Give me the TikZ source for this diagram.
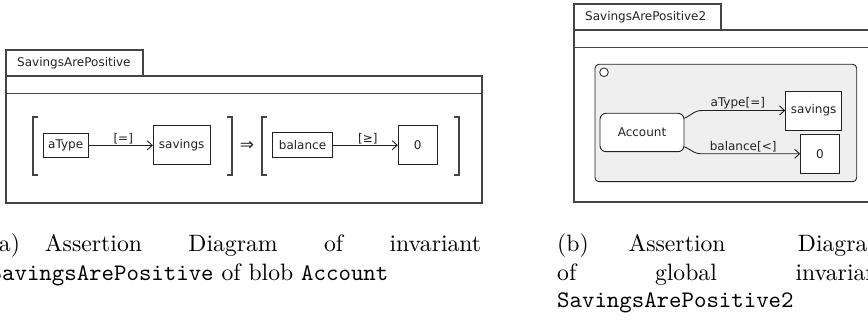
\documentclass[tikz,border=0pt]{standalone}
\usepackage{fontspec}
\newfontfamily\dv{DejaVu Sans}
\newfontfamily\caprm{lmroman10-regular.otf}
\newfontfamily\captt{lmmono10-regular.otf}
\usetikzlibrary{arrows.meta}
\definecolor{framegray}{HTML}{444444}
\definecolor{inkgray}{HTML}{222222}
\definecolor{panelfill}{HTML}{EFEFEF}
\newcommand\capfont{\caprm\fontsize{23.7}{28.4}\selectfont}
\newcommand\ctt[1]{{\captt #1}}
\begin{document}
\begin{tikzpicture}[x=1pt,y=-1pt,
  frameline/.style={draw=framegray, line width=1.2pt},
  bracket/.style={draw=framegray, line width=1.2pt},
  dvtext/.style={font=\dv\fontsize{12}{14}\selectfont, text=inkgray},
  valbox/.style={dvtext, draw=inkgray, line width=0.9pt, inner sep=0pt},
  arr/.style={draw=inkgray, line width=0.9pt, -{Straight Barb[length=5pt,width=9pt]}},
  elabel/.style={dvtext, inner sep=1pt},
  captext/.style={anchor=base west, inner sep=0pt, font=\capfont}]
\useasboundingbox (0,0) rectangle (868,323);
\clip (0,0) rectangle (868,323);

% ---- left frame: SavingsArePositive ----
\draw[frameline] (6,50) rectangle (143,76);
\node[dvtext, anchor=west, inner sep=0pt] (ltab) at (17,63) {SavingsArePositive};
\draw[frameline] (6,76) rectangle (482,203);
\draw[frameline] (6,93.3) -- (482,93.3);

% brackets
\draw[bracket] (38,117) -- (33,117) -- (33,175) -- (38,175);
\draw[bracket] (227,117) -- (232,117) -- (232,175) -- (227,175);
\draw[bracket] (267,117) -- (262,117) -- (262,175) -- (267,175);
\draw[bracket] (454,117) -- (459,117) -- (459,175) -- (454,175);

\node[valbox, minimum width=44.7pt, minimum height=24pt] (atype) at (65.7,145.3) {aType};
\node[valbox, minimum width=56.7pt, minimum height=39.3pt] (lsav) at (181.7,144.7) {savings};
\node[dvtext, font=\dv\fontsize{17}{18}\selectfont, inner sep=0pt] (implies) at (247,146.5) {⇒};
\node[valbox, minimum width=59.6pt, minimum height=25pt] (bal) at (302.5,145.2) {balance};
\node[valbox, minimum width=39pt, minimum height=39.3pt] (lzero) at (417.8,144.7) {0};

\draw[arr] (atype.east) -- (atype.east -| lsav.west) node[elabel, pos=0.54, above] {[=]};
\draw[arr] (bal.east) -- (bal.east -| lzero.west) node[elabel, pos=0.54, above] {[≥]};

% ---- right frame: SavingsArePositive2 ----
\draw[frameline] (574,4) rectangle (721,30);
\node[dvtext, anchor=west, inner sep=0pt] (rtab) at (585,17) {SavingsArePositive2};
\draw[frameline] (574,30) rectangle (880,202);
\draw[frameline] (574,47.7) -- (880,47.7);

\draw[draw=inkgray, line width=0.9pt, fill=panelfill, rounded corners=4pt] (595,64.3) rectangle (856.7,181.7);
\node[draw=inkgray, line width=0.8pt, fill=white, circle, minimum size=8.6pt, inner sep=0pt] (init) at (604,72.3) {};

\node[valbox, fill=white, rounded corners=6pt, minimum width=84pt, minimum height=38.4pt] (acc) at (642,132.5) {Account};
\node[valbox, fill=white, minimum width=56pt, minimum height=39pt] (rsav) at (813.7,110.5) {savings};
\node[valbox, fill=white, minimum width=38.6pt, minimum height=39pt] (rzero) at (820,153.8) {0};

\draw[arr] ([yshift=14.2pt]acc.east) .. controls +(10,-5) and +(-10,0) .. ++(19,-7.8)
  -- (rsav.west) node[elabel, pos=0.42, above] {aType[=]};
\draw[arr] ([yshift=-14.2pt]acc.east) .. controls +(10,5) and +(-10,0) .. ++(19,7.1)
  -- (rzero.west) node[elabel, pos=0.41, above] {balance[<]};

% ---- captions (justified; the label gap stretches less than word gaps) ----
\node[captext] (capa1) at (-10.5,252) {\makebox[491.5pt][s]{(a)\hspace{25pt}Assertion Diagram of invariant}};
\node[captext] (capa2) at (-10.5,280) {\ctt{SavingsArePositive} of blob \ctt{Account}};
\node[captext] (capb1) at (557,252) {\makebox[330pt][s]{(b)\hspace{39.7pt}Assertion Diagram}};
\node[captext] (capb2) at (557,280) {\makebox[330pt][s]{of global invariant}};
\node[captext] (capb3) at (557,308) {\ctt{SavingsArePositive2}};
\end{tikzpicture}
\end{document}
